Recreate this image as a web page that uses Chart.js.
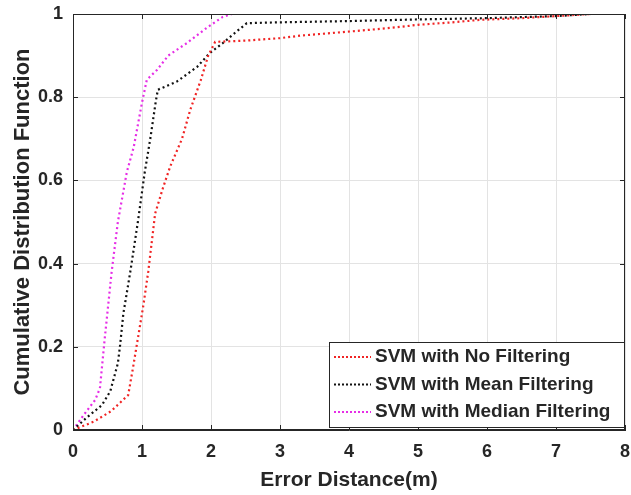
<!DOCTYPE html>
<html>
<head>
<meta charset="utf-8">
<script src="https://cdn.jsdelivr.net/npm/chart.js@4.4.1/dist/chart.umd.min.js"></script>
<style>
  html, body { margin: 0; padding: 0; background: #fff; }
  #wrap { width: 631px; height: 495px; }
</style>
</head>
<body>
<div id="wrap"><canvas id="cdf" width="631" height="495"></canvas></div>
<script>
// values
const seriesNames = ['SVM with No Filtering', 'SVM with Mean Filtering', 'SVM with Median Filtering'];
const seriesColors = ['#f02424', '#111111', '#e62ee6'];

const noFilterX = [0, 0.3, 0.55, 0.8, 0.87, 0.94, 1.02, 1.09, 1.19, 1.3, 1.41, 1.58, 1.7, 1.85, 1.96, 2.06, 2.5, 3.0, 3.3, 3.8, 4.3, 4.74, 5.0, 5.5, 5.9, 6.5, 7.0, 7.5];
const noFilterY = [0, 0.02, 0.045, 0.084, 0.15, 0.22, 0.3, 0.38, 0.52, 0.58, 0.634, 0.70, 0.77, 0.84, 0.90, 0.933, 0.936, 0.942, 0.948, 0.955, 0.962, 0.969, 0.974, 0.98, 0.986, 0.99, 0.995, 1.0];

const meanX = [0, 0.2, 0.42, 0.54, 0.65, 0.68, 0.73, 0.83, 0.94, 1.04, 1.12, 1.2, 1.23, 1.5, 1.8, 1.98, 2.17, 2.35, 2.52, 3, 4, 5, 6, 7, 7.5];
const meanY = [0, 0.03, 0.06, 0.093, 0.16, 0.20, 0.28, 0.38, 0.50, 0.62, 0.70, 0.79, 0.818, 0.837, 0.873, 0.906, 0.93, 0.955, 0.978, 0.98, 0.983, 0.987, 0.99, 0.995, 1.0];

const medianX = [0, 0.15, 0.32, 0.39, 0.46, 0.56, 0.65, 0.78, 0.88, 1.0, 1.07, 1.22, 1.38, 1.65, 1.94, 2.17, 2.3, 3.5];
const medianY = [0, 0.035, 0.072, 0.1, 0.22, 0.38, 0.50, 0.62, 0.68, 0.787, 0.842, 0.866, 0.90, 0.93, 0.967, 0.993, 1.0, 1.0];

const xTicks = [0, 1, 2, 3, 4, 5, 6, 7, 8];
const yTicks = [0, 0.2, 0.4, 0.6, 0.8, 1];

const FONT = '"Liberation Sans", Arial, sans-serif';
const TEXT = '#262626';

const toPoints = (xs, ys) => xs.map((x, i) => ({ x: x, y: ys[i] }));
const allX = [noFilterX, meanX, medianX];
const allY = [noFilterY, meanY, medianY];

const datasets = seriesNames.map((name, i) => ({
    label: name,
    data: toPoints(allX[i], allY[i]),
    borderColor: seriesColors[i],
    backgroundColor: seriesColors[i],
    borderWidth: 2.2,
    borderDash: [2, 3],
    pointRadius: 0,
    showLine: true,
    tension: 0,
}));

// box, inner ticks and the MATLAB-style legend
const matlabBox = {
    id: 'matlabBox',
    afterDraw(chart) {
        const { ctx, chartArea: a, scales } = chart;
        ctx.save();
        ctx.strokeStyle = '#262626';
        ctx.lineWidth = 1;
        ctx.strokeRect(a.left + 0.5, a.top + 0.5, a.right - a.left - 1, a.bottom - a.top - 1);

        // ticks pointing inward
        ctx.beginPath();
        xTicks.forEach(v => {
            const px = Math.round(scales.x.getPixelForValue(v)) + 0.5;
            ctx.moveTo(px, a.bottom); ctx.lineTo(px, a.bottom - 5);
            ctx.moveTo(px, a.top); ctx.lineTo(px, a.top + 5);
        });
        yTicks.forEach(v => {
            const py = Math.round(scales.y.getPixelForValue(v)) + 0.5;
            ctx.moveTo(a.left, py); ctx.lineTo(a.left + 5, py);
            ctx.moveTo(a.right, py); ctx.lineTo(a.right - 5, py);
        });
        ctx.stroke();

        // legend
        const bx = 329, by = 342, bw = 296, bh = 86;
        ctx.fillStyle = '#fff';
        ctx.fillRect(bx, by, bw, bh);
        ctx.strokeStyle = '#262626';
        ctx.strokeRect(bx + 0.5, by + 0.5, bw - 1, bh - 1);
        ctx.font = 'bold 19px ' + FONT;
        ctx.textBaseline = 'middle';
        seriesNames.forEach((name, i) => {
            const cy = by + 15 + i * 27.5;
            ctx.strokeStyle = seriesColors[i];
            ctx.lineWidth = 2;
            ctx.setLineDash([2, 2]);
            ctx.beginPath();
            ctx.moveTo(bx + 5, cy); ctx.lineTo(bx + 42, cy);
            ctx.stroke();
            ctx.setLineDash([]);
            ctx.fillStyle = TEXT;
            ctx.fillText(name, bx + 46, cy);
        });
        ctx.restore();
    }
};

const config = {
    type: 'scatter',
    data: { datasets: datasets },
    options: {
        responsive: false,
        animation: false,
        layout: { autoPadding: false, padding: { top: 14, right: 6, left: 0, bottom: 0 } },
        scales: {
            x: {
                type: 'linear',
                min: 0,
                max: 8,
                afterBuildTicks: (axis) => { axis.ticks = xTicks.map(v => ({ value: v })); },
                afterFit: (axis) => {
                    axis.height = 65;
                    axis.paddingLeft = 0;
                    axis.paddingRight = 0;
                },
                grid: { color: '#e3e3e3', drawTicks: false },
                border: { color: '#262626' },
                ticks: { color: TEXT, padding: 11, maxRotation: 0, font: { family: FONT, size: 18, weight: 'bold' } },
                title: {
                    display: true,
                    text: 'Error Distance(m)',
                    color: TEXT,
                    padding: { top: 0, bottom: 2 },
                    font: { family: FONT, size: 21, weight: 'bold' }
                }
            },
            y: {
                type: 'linear',
                min: 0,
                max: 1,
                afterBuildTicks: (axis) => { axis.ticks = yTicks.map(v => ({ value: v })); },
                afterFit: (axis) => {
                    axis.width = 73;
                    axis.paddingTop = 0;
                    axis.paddingBottom = 0;
                },
                grid: { color: '#e3e3e3', drawTicks: false },
                border: { color: '#262626' },
                ticks: {
                    color: TEXT,
                    padding: 10,
                    font: { family: FONT, size: 18, weight: 'bold' },
                    callback: (v) => String(v)
                },
                title: {
                    display: true,
                    text: 'Cumulative Distribution Function',
                    color: TEXT,
                    padding: { top: 10, bottom: 0 },
                    font: { family: FONT, size: 22, weight: 'bold' }
                }
            }
        },
        plugins: {
            legend: { display: false },
            tooltip: { enabled: false }
        }
    },
    plugins: [matlabBox]
};

new Chart(document.getElementById('cdf'), config);
</script>
</body>
</html>
